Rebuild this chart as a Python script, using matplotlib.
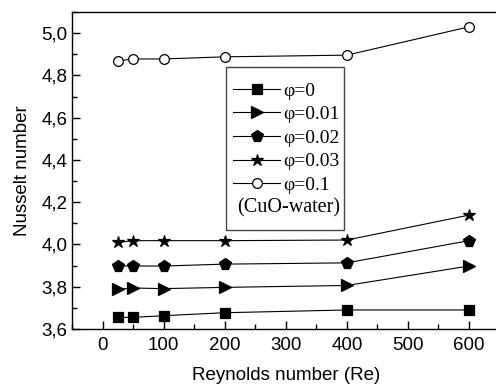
import numpy as np
import matplotlib.pyplot as plt
from matplotlib.patches import Rectangle
from matplotlib.ticker import MultipleLocator, FuncFormatter

# Данные
re = [25, 50, 100, 200, 400, 600]
nu_0 = [3.655, 3.655, 3.663, 3.677, 3.690, 3.690]
nu_001 = [3.788, 3.794, 3.791, 3.797, 3.806, 3.898]
nu_002 = [3.898, 3.898, 3.898, 3.907, 3.913, 4.018]
nu_003 = [4.010, 4.018, 4.018, 4.018, 4.021, 4.139]
nu_01 = [4.868, 4.878, 4.878, 4.888, 4.896, 5.030]
labels = ['φ=0', 'φ=0.01', 'φ=0.02', 'φ=0.03', 'φ=0.1']

plt.rcParams['font.family'] = ['Liberation Sans', 'DejaVu Sans']

fig = plt.figure(figsize=(4.96, 3.87), dpi=100)
ax = fig.add_axes([0.1452, 0.1499, 0.862, 0.819])

series = [nu_0, nu_001, nu_002, nu_003, nu_01]
styles = [dict(marker='s', ms=6.5, mfc='black'),
          dict(marker='>', ms=8.5, mfc='black'),
          dict(marker='p', ms=8.5, mfc='black'),
          dict(marker='*', ms=9, mfc='black'),
          dict(marker='o', ms=7, mfc='white')]

for y, lab, st in zip(series, labels, styles):
    ax.plot(re, y, color='black', lw=0.8, mec='black', mew=0.9,
            label=lab, **st)

ax.set_xlim(-50, 650)
ax.set_ylim(3.6, 5.1)
ax.xaxis.set_major_locator(MultipleLocator(100))
ax.xaxis.set_minor_locator(MultipleLocator(50))
ax.yaxis.set_major_locator(MultipleLocator(0.2))
ax.yaxis.set_minor_locator(MultipleLocator(0.1))
ax.yaxis.set_major_formatter(FuncFormatter(lambda v, p: f'{v:.1f}'.replace('.', ',')))
ax.tick_params(which='both', direction='in', labelsize=13.5, width=1)
ax.tick_params(which='major', length=6)
ax.tick_params(which='minor', length=3.5)
ax.tick_params(axis='x', pad=6)
for s in ax.spines.values():
    s.set_linewidth(1)

ax.set_xlabel('Reynolds number (Re)', fontsize=13.5, labelpad=9)
ax.set_ylabel('Nusselt number', fontsize=13.5, labelpad=7)

# легенда без рамки, рамка и подпись рисуются отдельно
leg = ax.legend(loc='upper left', bbox_to_anchor=(0.364, 0.798),
                prop={'family': 'Liberation Serif', 'size': 14},
                handlelength=2.4, handletextpad=0.15, labelspacing=0.31,
                borderpad=0.3, borderaxespad=0, frameon=False)

ax.add_patch(Rectangle((0.359, 0.312), 0.277, 0.514, transform=ax.transAxes,
                       fill=True, facecolor='white', edgecolor='#444444',
                       lw=1, zorder=2.5))
leg.set_zorder(3)

ax.text(0.387, 0.383, '(CuO-water)', transform=ax.transAxes,
        family='Liberation Serif', fontsize=14.5, va='center', ha='left',
        zorder=3)

fig.savefig('out.png', dpi=100)
